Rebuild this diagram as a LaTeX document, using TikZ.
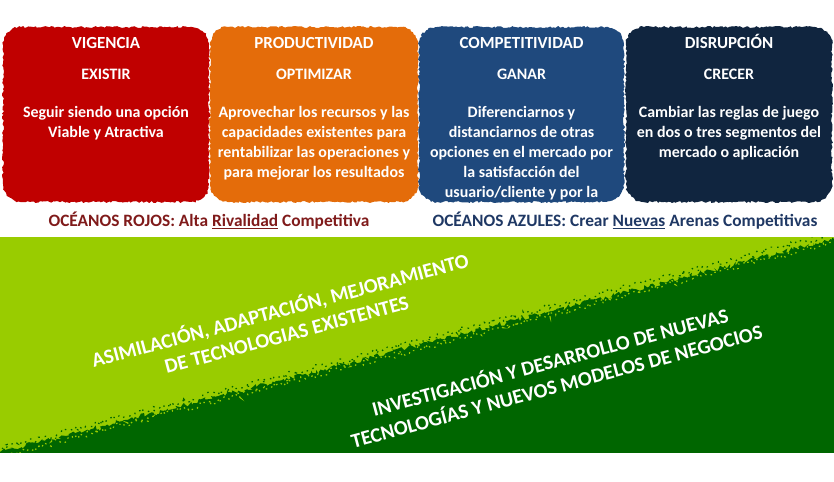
\documentclass[tikz,border=0pt]{standalone}
\usepackage{fontspec}
\setmainfont{Carlito}
\usepackage{tikz}
\usepackage{xcolor}
\usetikzlibrary{decorations.pathmorphing}

\definecolor{vigred}{HTML}{C00000}
\definecolor{prodorange}{HTML}{E46C0A}
\definecolor{compblue}{HTML}{1F497D}
\definecolor{disrnavy}{HTML}{10253F}
\definecolor{rojostext}{HTML}{7F1A1A}
\definecolor{azulestext}{HTML}{1F3864}
\definecolor{lightgreen}{HTML}{99CC00}
\definecolor{darkgreen}{HTML}{006600}

\tikzset{
  rough/.style={decoration={random steps,segment length=2bp,amplitude=1bp}},
  cardtitle/.style={text=white,anchor=base,inner sep=0pt,font=\bfseries\fontsize{17}{20}\selectfont},
  cardverb/.style={text=white,anchor=base,inner sep=0pt,font=\bfseries\fontsize{16}{20}\selectfont},
  cardtext/.style={text=white,anchor=north,inner sep=0pt,align=center,font=\bfseries\fontsize{16}{20}\selectfont},
  oceanlabel/.style={anchor=base,inner sep=0pt,font=\bfseries\fontsize{17.4}{20}\selectfont},
  slanted/.style={text=white,inner sep=0pt,align=center,rotate=15,font=\bfseries\fontsize{20.5}{25}\selectfont}
}

\begin{document}
\begin{tikzpicture}[x=1bp,y=-1bp]
\pgfmathsetseed{7}
\useasboundingbox (0,0) rectangle (834,482);

\fill[vigred] decorate[rough] {[rounded corners=18bp] (3,27) rectangle (209,202)};
\fill[prodorange] decorate[rough] {[rounded corners=18bp] (210,27) rectangle (418,202)};
\fill[compblue] decorate[rough] {[rounded corners=18bp] (419,27) rectangle (624,202)};
\fill[disrnavy] decorate[rough] {[rounded corners=18bp] (626,27) rectangle (832,202)};

\node[cardtitle] (vigtitle) at (106,49) {VIGENCIA};
\node[cardtitle] (prodtitle) at (314,49) {PRODUCTIVIDAD};
\node[cardtitle] (comptitle) at (521.5,49) {COMPETITIVIDAD};
\node[cardtitle] (disrtitle) at (729,49) {DISRUPCIÓN};

\node[cardverb] (vigverb) at (106,80) {EXISTIR};
\node[cardverb] (prodverb) at (314,80) {OPTIMIZAR};
\node[cardverb] (compverb) at (521.5,80) {GANAR};
\node[cardverb] (disrverb) at (729,80) {CRECER};

\node[cardtext] (vigtext) at (106,106) {Seguir siendo una opción\\Viable y Atractiva};
\node[cardtext] (prodtext) at (314,106) {Aprovechar los recursos y las\\capacidades existentes para\\rentabilizar las operaciones y\\para mejorar los resultados};
\node[cardtext] (comptext) at (521.5,106) {Diferenciarnos y\\distanciarnos de otras\\opciones en el mercado por\\la satisfacción del\\usuario/cliente y por la};
\node[cardtext] (disrtext) at (729,106) {Cambiar las reglas de juego\\en dos o tres segmentos del\\mercado o aplicación};

\node[oceanlabel,text=rojostext] (rojos) at (209,226.5) {OCÉANOS ROJOS: Alta \underline{Rivalidad} Competitiva};
\node[oceanlabel,text=azulestext] (azules) at (625,226.5) {OCÉANOS AZULES: Crear \underline{Nuevas} Arenas Competitivas};

\fill[lightgreen] (0,237) rectangle (834,453);
\fill[darkgreen] (0,453) -- (834,453) -- (834,239)
  decorate[decoration={random steps,segment length=2bp,amplitude=2.5bp}] {-- (0,452)} -- cycle;
\draw[lightgreen,line width=1.2bp,dash pattern=on 1.5bp off 4bp,decorate,
  decoration={random steps,segment length=2.5bp,amplitude=3bp}] (2,456) -- (832,242);
\draw[darkgreen,line width=1.2bp,dash pattern=on 1.5bp off 5bp,decorate,
  decoration={random steps,segment length=2.5bp,amplitude=3bp}] (2,448) -- (832,234);
\fill[white] (0,453) rectangle (834,460);
\fill[white] (0,230) rectangle (834,237);

\node[slanted] (asim) at (283,321) {ASIMILACIÓN, ADAPTACIÓN, MEJORAMIENTO\\DE TECNOLOGIAS EXISTENTES};
\node[slanted] (inves) at (553,373) {INVESTIGACIÓN Y DESARROLLO DE NUEVAS\\TECNOLOGÍAS Y NUEVOS MODELOS DE NEGOCIOS};
\end{tikzpicture}
\end{document}
